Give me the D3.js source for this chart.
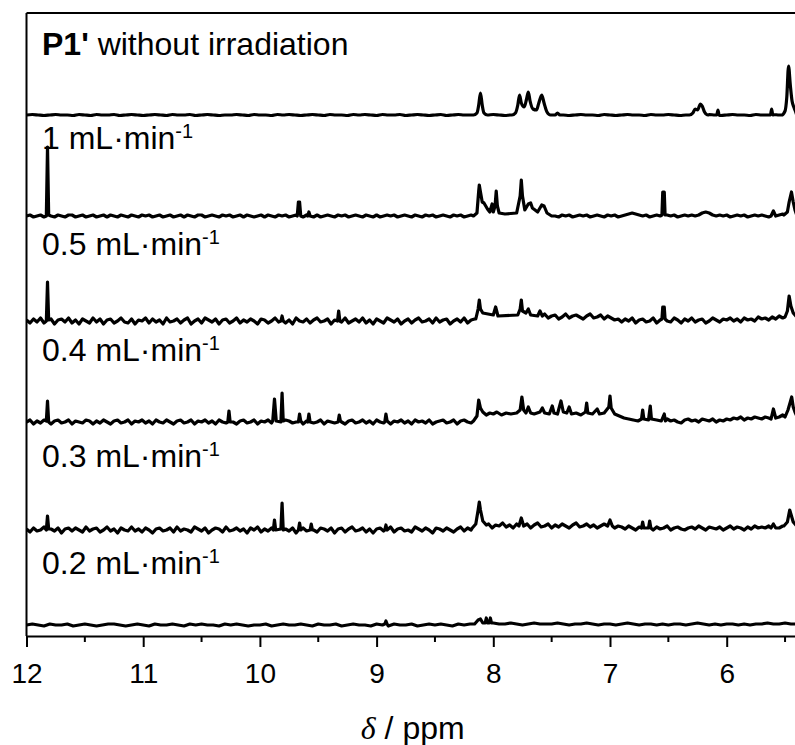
<!DOCTYPE html>
<html lang="en">
<head>
<meta charset="UTF-8">
<title>1H NMR spectra</title>
<script src="https://d3js.org/d3.v7.min.js"></script>
<style>
  body { margin: 0; background: #fff; }
  text { font-family: "Liberation Sans", Arial, sans-serif; fill: #000; }
</style>
</head>
<body>
<svg id="chart" width="795" height="745"></svg>
<script>
// trace labels, top to bottom
const labelBold = ["P1'", "", "", "", "", ""];
const labelText = [" without irradiation", "1 mL\u00b7min", "0.5 mL\u00b7min", "0.4 mL\u00b7min", "0.3 mL\u00b7min", "0.2 mL\u00b7min"];
const labelSup = ["", "-1", "-1", "-1", "-1", "-1"];
const labelLevel = [581, 487, 381, 275, 169, 62];

// vertical stacking offset of each trace (intensity units)
const offsets = [521, 420, 315, 214, 106, 11];

const majorTicks = [12, 11, 10, 9, 8, 7, 6];
const minorTicks = [11.5, 10.5, 9.5, 8.5, 7.5, 6.5, 5.5];

// baseline noise, sampled from 12.00 ppm downwards with the step of each trace
const gridStart = 12;
const gridSteps = [0.05, 0.03, 0.03, 0.03, 0.03, 0.05];
const noise1 = [0,0.5,0,-0.5,0,0.5,0,0,-0.5,0.5, 0,-0.5,0.5,0,0,0.5,-0.5,0,0.5,0, -0.5,0,0.5,0,-0.5,0.5,0,0,0.5,-0.5, 0,0.5,0,-0.5,0,0,0.5,0,-0.5,0.5,
  0,0,-0.5,0.5,0,0.5,0,-0.5,0,0.5, 0,-0.5,0.5,0,0,-0.5,0.5,0,0.5,0, -0.5,0.5,0,0,0.5,-0.5,0,0.5,0,-0.5, 0,0.5,-0.5,0,0.5,0,0,0.5,0,0,
  0.5,0,-0.5,0,0.5,0,0,0.5,0,-0.5, 0,0.5,0,-0.5,0,0.5,0,0,-0.5,0.5, 0,-0.5,0,0.5,0,0,-0.5,0.5,0,0, 0.5,0,-0.5,0,0.5,0,0,0.5,0,-0.5,
  0,0.5,0,0,-0.5,0.5,0,0,0.5,0, 0,0.5,0];
const noise2 = [0,1,-1,0,1,-1,1,0,-1,1, 0,-1,1,1,-1,0,1,-1,0,1, -1,0,1,-1,1,0,-1,1,0,-1, 1,0,-1,1,0,1,-1,0,1,-1,
  0,1,-1,0,1,-1,1,0,-1,1, 1,-1,0,1,0,-1,1,0,1,-1, 0,1,-1,1,0,-1,0,1,-1,1, 0,-1,1,0,1,-1,0,1,0,-1,
  1,0,-1,1,-1,0,1,0,-1,1, 0,1,-1,0,1,0,-1,1,0,-1, 1,-1,0,1,0,1,-1,0,1,0, -1,1,0,-1,1,0,1,-1,0,1,
  0,-1,1,0,1,-1,0,1,0,1, 0,1,-1,1,0,1,0,-1,1,0, 1,0,1,-1,0,1,0,1,-1,0, 1,0,-1,1,0,1,-1,0,1,0,
  1,-1,0,1,0,-1,1,0,1,-1, 0,1,2,3,2,1,0,1,-1,0, 1,0,-1,1,0,1,-1,0,1,0, 1,0,1,3,4,3,1,0,1,0,
  1,-1,0,1,0,1,-1,0,1,0, 1,0,-1,1,0,1,2,1,0,1, 1];
const noise3 = [1,-2,2,-1,3,-2,0,2,-3,1, 2,-1,3,-2,1,-3,2,0,-2,3, -1,2,-3,1,2,-2,0,3,-1,-2, 2,-3,1,0,3,-2,2,-1,1,-3,
  3,-1,0,2,-2,1,3,-3,0,2, -2,3,1,-1,2,-3,1,2,-2,0, 3,-2,1,-1,2,0,-3,2,1,-2, 0,3,-1,2,-2,1,-3,3,0,-1,
  2,-2,1,3,-1,0,2,-3,1,2, -1,3,-2,0,2,-1,3,-2,1,-3, 2,0,-2,3,1,-1,2,-3,0,2, -2,1,3,-1,0,2,-2,3,-1,1,
  2,-3,0,2,-1,3,-2,1,2,-1, 4,2,6,3,5,7,3,6,4,2, 6,4,7,3,5,2,6,4,7,3, 5,6,2,4,7,3,5,6,4,2,
  5,7,3,4,6,2,5,3,1,2, -1,2,0,3,-2,1,2,-1,0,3, -2,1,2,0,-1,3,1,-2,2,0, 3,-1,1,2,-2,0,3,1,-1,2,
  1,3,0,2,-1,3,1,2,0,4, 2,3,1,4,2,5,3,4,5,3, 4];
const noise4 = [0,2,-2,1,-1,2,0,-2,1,2, -1,0,2,-2,1,0,-1,2,1,-2, 1,-1,2,0,-2,1,2,-1,0,2, -2,1,0,2,-1,1,-2,2,0,-1,
  2,0,-2,1,2,-1,0,2,-2,1, 0,2,-1,1,-2,2,0,-1,2,0, -2,1,2,-1,0,2,-2,1,0,2, -1,1,0,-2,2,1,-1,0,2,-2,
  1,2,-1,0,2,-2,1,0,-1,2, 0,-2,1,2,-1,0,2,-1,1,-2, 2,0,-1,2,-2,1,0,2,-1,1, -2,2,0,1,-1,2,-2,0,1,2,
  -1,0,2,-2,1,2,0,-1,2,1, 3,6,9,7,10,8,6,9,11,7, 9,11,8,6,10,7,9,12,8,10, 7,9,11,8,6,10,9,7,11,8,
  10,7,9,11,8,10,7,5,3,2, 1,3,0,2,-1,1,2,0,3,1, -1,2,0,3,1,2,0,-1,2,3, 1,2,0,3,2,1,3,0,2,1,
  3,2,4,3,5,2,4,3,5,4, 3,5,4,6,3,5,7,4,6,8, 6];
const noise5 = [1,-2,2,-1,0,3,-2,1,-1,2, -3,1,2,-1,2,0,-2,3,-1,1, 2,-2,0,3,-1,1,-3,2,0,-1, 3,-1,1,-2,2,0,-3,1,2,-1,
  0,2,-2,3,-1,1,0,-2,3,1, -1,2,-3,0,2,1,-2,3,-1,0, 2,-1,1,-3,2,0,3,-2,1,-1, 2,0,-2,3,1,-1,2,-3,0,2,
  -1,3,0,-2,2,1,-1,2,-3,1, 2,-2,1,3,-1,0,2,-2,1,-3, 1,2,-1,0,3,-2,1,2,-1,0, -2,3,1,-1,2,0,-3,2,1,-1,
  2,0,-2,1,3,-1,2,0,-1,2, 5,3,6,2,5,4,7,3,5,2, 6,4,3,6,2,5,7,3,4,6, 2,5,3,6,4,2,5,7,3,4,
  6,3,5,2,4,6,3,5,2,4, 3,1,4,2,0,3,1,4,2,0, 3,1,2,4,0,2,3,1,0,2, 3,1,4,2,0,3,2,1,3,0,
  2,4,1,3,2,0,3,1,4,2, 3,2,4,3,5,2,4,5,3,6, 4];
const noise6 = [0,1,0,-1,1,0,0,1,-1,0, 1,0,-1,0,1,1,0,-1,0,1, 0,-1,1,0,0,1,0,-1,1,0, 1,0,0,-1,1,0,1,0,-1,0,
  0,1,-1,0,1,0,0,1,0,-1, 1,0,0,1,-1,0,1,0,0,-1, 1,0,-1,1,0,0,1,-1,0,1, 0,1,0,-1,1,0,1,0,1,1,
  2,1,1,2,1,0,1,2,1,1, 1,2,1,0,1,1,2,1,0,1, 1,0,1,2,1,0,1,1,0,1, 0,1,1,0,1,2,1,0,1,0,
  1,1,0,1,0,1,1,2,1,1, 2,1,1];

// signals: groups of [ppm, intensity] points
const peaks1 = [
  [[8.17,0],[8.14,2],[8.125,10],[8.11,22],[8.095,10],[8.08,2],[8.05,0]],
  [[7.84,0],[7.81,2],[7.79,10],[7.775,20],[7.76,12],[7.735,8],[7.715,16],[7.70,23],[7.685,14],[7.66,6],
   [7.63,5],[7.61,12],[7.585,20],[7.565,12],[7.54,3],[7.51,0]],
  [[7.47,0],[7.45,2],[7.43,0]],
  [[6.32,0],[6.29,2],[6.27,6],[6.25,5],[6.225,11],[6.21,9],[6.19,3],[6.16,0]],
  [[6.085,0],[6.075,5],[6.065,0]],
  [[5.625,0],[5.615,6],[5.605,0]],
  [[5.53,0],[5.50,4],[5.485,18],[5.47,49],[5.455,30],[5.44,14],[5.425,8],[5.415,5]]
];
const peaks2 = [
  [[11.83,0],[11.82,69],[11.81,1]],
  [[9.68,0],[9.67,14],[9.66,14],[9.65,0]],
  [[9.59,0],[9.58,4],[9.57,0]],
  [[8.17,0],[8.14,3],[8.125,25],[8.12,31],[8.11,24],[8.095,14],[8.08,13],[8.065,10],[8.05,7],[8.03,4],
   [8.01,12],[8.0,4],[7.985,10],[7.975,25],[7.965,10],[7.95,3],[7.90,2],[7.80,3],[7.77,20],[7.76,36],
   [7.75,20],[7.73,6],[7.70,12],[7.68,13],[7.665,8],[7.62,4],[7.585,11],[7.565,10],[7.54,3],[7.50,0]],
  [[6.555,1],[6.548,24],[6.535,24],[6.528,1]],
  [[5.62,0],[5.60,5],[5.58,0]],
  [[5.51,1],[5.48,4],[5.465,14],[5.445,24],[5.43,14],[5.415,6]]
];
const peaks3 = [
  [[11.83,0],[11.82,39],[11.81,1]],
  [[9.82,0],[9.81,5],[9.80,0]],
  [[9.335,0],[9.325,10],[9.315,0]],
  [[8.15,2],[8.13,12],[8.12,21],[8.11,12],[8.09,8],[8.0,6],[7.98,14],[7.96,5],[7.79,6],[7.77,12],
   [7.76,21],[7.75,10],[7.72,8],[7.70,12],[7.68,6],[7.62,5],[7.60,10],[7.58,5]],
  [[6.555,2],[6.548,14],[6.535,14],[6.528,2]],
  [[5.50,4],[5.48,10],[5.465,25],[5.45,15],[5.43,8],[5.415,6]]
];
const peaks4 = [
  [[11.83,1],[11.82,21],[11.81,0]],
  [[10.275,0],[10.265,11],[10.255,0]],
  [[9.89,1],[9.875,23],[9.86,1],[9.82,0],[9.81,29],[9.80,1]],
  [[9.67,0],[9.66,8],[9.65,1]],
  [[9.59,0],[9.58,8],[9.57,0]],
  [[9.33,0],[9.32,7],[9.31,1]],
  [[8.93,0],[8.92,8],[8.91,1]],
  [[8.17,1],[8.14,6],[8.125,22],[8.11,14],[8.09,10],[8.06,7],[8.03,9],[8.0,8],[7.97,10],[7.93,7],
   [7.89,9],[7.85,8],[7.80,9],[7.77,12],[7.755,25],[7.74,12],[7.72,9],[7.70,15],[7.68,9],[7.65,8],
   [7.60,10],[7.58,14],[7.56,9],[7.52,8],[7.495,16],[7.48,9],[7.45,8],[7.42,21],[7.40,10],[7.37,9],
   [7.35,15],[7.33,8],[7.29,9],[7.25,7],[7.21,10],[7.20,19],[7.19,9],[7.15,8],[7.11,13],[7.09,8],
   [7.05,9],[7.01,15],[7.00,26],[6.99,14],[6.96,8],[6.92,6],[6.88,4],[6.84,3],[6.80,2],[6.76,1],
   [6.73,3],[6.72,12],[6.71,3],[6.67,2],[6.655,16],[6.645,3],[6.60,2],[6.56,1],[6.535,8],[6.525,1]],
  [[5.62,3],[5.60,13],[5.58,4]],
  [[5.50,5],[5.475,12],[5.455,20],[5.443,25],[5.43,15],[5.415,10]]
];
const peaks5 = [
  [[11.83,0],[11.82,14],[11.81,1]],
  [[9.885,0],[9.875,10],[9.865,0],[9.82,1],[9.81,27],[9.80,0]],
  [[9.67,0],[9.66,7],[9.65,0]],
  [[9.57,0],[9.56,6],[9.55,0]],
  [[8.93,0],[8.92,5],[8.91,0]],
  [[8.18,2],[8.15,6],[8.13,20],[8.12,28],[8.11,20],[8.09,9],[8.06,5]],
  [[7.78,4],[7.76,12],[7.74,4]],
  [[7.02,4],[7.00,10],[6.98,4]],
  [[6.73,2],[6.72,8],[6.71,2],[6.67,2],[6.66,9],[6.65,2]],
  [[5.62,2],[5.60,6],[5.58,2]],
  [[5.51,4],[5.48,8],[5.46,20],[5.445,14],[5.43,8],[5.415,6]]
];
const peaks6 = [
  [[8.93,1],[8.92,4],[8.91,1]],
  [[8.16,1],[8.13,5],[8.11,6],[8.09,2],[8.07,2],[8.06,7],[8.05,2],[8.035,2],[8.025,7],[8.015,2]]
];

const noises = [noise1, noise2, noise3, noise4, noise5, noise6];
const peakSets = [peaks1, peaks2, peaks3, peaks4, peaks5, peaks6];

const svg = d3.select("#chart");
const plotLeft = 26.5, plotTop = 13, plotBottom = 636, plotRight = 795;

const x = d3.scaleLinear()
  .domain([12, 12 - (plotRight - plotLeft) / 116.7])
  .range([plotLeft, plotRight]);

const y = d3.scaleLinear()
  .domain([0, plotBottom - plotTop])
  .range([plotBottom, plotTop]);

// merge noise samples with the signal points of one spectrum
function buildTrace(noise, step, groups) {
  const spans = groups.map(g => d3.extent(g, d => d[0]));
  const pts = [];
  noise.forEach((v, i) => {
    const ppm = +(gridStart - i * step).toFixed(3);
    if (!spans.some(([lo, hi]) => ppm >= lo && ppm <= hi)) pts.push([ppm, v]);
  });
  groups.forEach(g => g.forEach(p => pts.push(p)));
  return pts.sort((a, b) => b[0] - a[0]);
}

svg.append("defs").append("clipPath")
  .attr("id", "plotClip")
  .append("rect")
  .attr("x", plotLeft)
  .attr("y", plotTop)
  .attr("width", plotRight - plotLeft)
  .attr("height", plotBottom - plotTop);

const traces = svg.append("g").attr("clip-path", "url(#plotClip)");

noises.forEach((noise, i) => {
  const off = offsets[i];
  // the clean top spectrum is smooth, the noisy ones are drawn point to point
  const line = d3.line()
    .x(d => x(d[0]))
    .y(d => y(d[1] + off))
    .curve(i === 0 ? d3.curveMonotoneX : d3.curveLinear);

  traces.append("path")
    .datum(buildTrace(noise, gridSteps[i], peakSets[i]))
    .attr("fill", "none")
    .attr("stroke", "#000")
    .attr("stroke-width", 3.2)
    .attr("stroke-linejoin", "round")
    .attr("d", line);
});

// labels
labelText.forEach((t, i) => {
  const txt = svg.append("text")
    .attr("x", 42)
    .attr("y", y(labelLevel[i]))
    .attr("font-size", 32);
  if (labelBold[i]) txt.append("tspan").attr("font-weight", "bold").text(labelBold[i]);
  txt.append("tspan").text(t);
  if (labelSup[i]) txt.append("tspan")
    .attr("font-size", 20)
    .attr("dy", -11)
    .text(labelSup[i]);
});

// frame
svg.append("line")
  .attr("x1", plotLeft).attr("x2", plotLeft)
  .attr("y1", plotTop).attr("y2", plotBottom)
  .attr("stroke", "#000").attr("stroke-width", 2);
svg.append("line")
  .attr("x1", plotLeft).attr("x2", plotRight + 5)
  .attr("y1", plotTop).attr("y2", plotTop)
  .attr("stroke", "#000").attr("stroke-width", 2);

// x axis
const axis = svg.append("g")
  .attr("transform", `translate(0,${plotBottom})`)
  .call(d3.axisBottom(x)
    .tickValues(majorTicks)
    .tickFormat(d3.format("d"))
    .tickSizeInner(11)
    .tickSizeOuter(0)
    .tickPadding(16));
axis.select(".domain").attr("stroke-width", 2);
axis.selectAll(".tick line").attr("stroke-width", 2);
axis.selectAll(".tick text")
  .attr("font-size", 28)
  .attr("font-family", "\"Liberation Sans\", Arial, sans-serif");

svg.append("g")
  .attr("transform", `translate(0,${plotBottom})`)
  .selectAll("line")
  .data(minorTicks)
  .enter().append("line")
  .attr("x1", d => x(d)).attr("x2", d => x(d))
  .attr("y1", 0).attr("y2", 6)
  .attr("stroke", "#000")
  .attr("stroke-width", 2);

// axis title
const title = svg.append("text")
  .attr("x", (plotLeft + plotRight) / 2 + 2)
  .attr("y", 739)
  .attr("text-anchor", "middle")
  .attr("font-size", 32);
title.append("tspan")
  .attr("font-family", "\"Liberation Serif\", \"Times New Roman\", serif")
  .attr("font-style", "italic")
  .text("\u03b4");
title.append("tspan").text(" / ppm");
</script>
</body>
</html>
